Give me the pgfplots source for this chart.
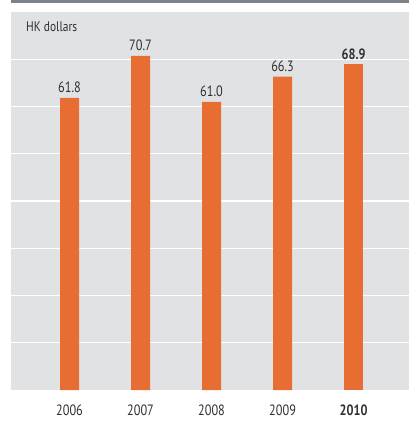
\documentclass[border=0pt]{standalone}
\usepackage{fontspec}
\setmainfont{PT Sans}[FakeStretch=0.82]
\usepackage{pgfplots}
\pgfplotsset{compat=1.18}
\definecolor{barorange}{HTML}{E76D32}
\definecolor{panelgray}{HTML}{E1E2E4}
\definecolor{rulegray}{HTML}{7B8289}
\definecolor{txt}{HTML}{303030}
\begin{document}
\begin{tikzpicture}
\begin{axis}[
    name=ax,
    scale only axis,
    width=398bp, height=378bp,
    xmin=-0.824, xmax=4.78,
    ymin=0, ymax=80,
    axis line style={draw=none},
    axis background/.style={fill=panelgray},
    ytick={10,20,...,70},
    yticklabels={},
    ymajorgrids,
    major grid style={white, line width=1.2pt},
    major tick length=0pt,
    xtick={0,1,2,3,4},
    xticklabels={2006,2007,2008,2009,\textbf{2010}},
    xticklabel style={font=\fontsize{15}{16}\selectfont, text=txt, yshift=-11bp},
    ybar, bar width=19bp, bar shift=0pt,
    /pgf/number format/assume math mode=true,
    nodes near coords={\pgfmathprintnumber[fixed,precision=1,fixed zerofill,assume math mode=true]{\pgfplotspointmeta}},
    nodes near coords style={font=\fontsize{15}{16}\selectfont, text=txt, yshift=1.5bp},
    clip=false,
]
\addplot[fill=barorange, draw=none] coordinates {(0,61.8) (1,70.7) (2,61.0) (3,66.3)};
\addplot[fill=barorange, draw=none, nodes near coords style={font=\fontsize{15}{16}\selectfont\bfseries}] coordinates {(4,68.9)};
\node[anchor=west, font=\fontsize{14}{15}\selectfont, text=txt, inner sep=0pt] at ([xshift=15bp,yshift=-15bp]rel axis cs:0,1) {HK dollars};
\draw[rulegray, line width=2.6bp] ([yshift=10.7bp]rel axis cs:0,1) -- ([yshift=10.7bp]rel axis cs:1,1);
\end{axis}
\pgfresetboundingbox
\path ([xshift=-11bp,yshift=-31bp]ax.south west) rectangle ([yshift=12bp]ax.north east);
\end{tikzpicture}
\end{document}
